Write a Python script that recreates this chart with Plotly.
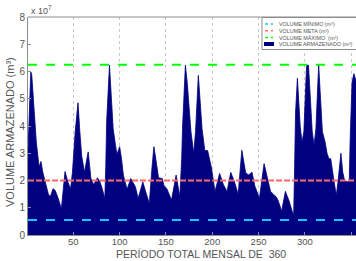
import plotly.graph_objects as go

# Data in units of 10^7 m^3
MONTHS = [1, 2, 4, 5, 6, 8, 10, 12, 13, 15, 17, 20, 23, 25, 28, 30, 32, 35, 37, 41,
          44, 47, 49, 52, 55, 57, 59, 62, 64, 66, 69, 72, 76, 78, 80, 84, 85, 86, 89, 91,
          93, 97, 100, 102, 104, 108, 112, 114, 117, 120, 125, 128, 132, 135, 137, 139, 142, 146, 148, 151,
          156, 161, 163, 165, 167, 168, 171, 173, 175, 177, 180, 182, 185, 187, 189, 192, 195, 199, 203, 208,
          212, 216, 220, 224, 228, 232, 236, 239, 243, 246, 251, 256, 260, 263, 266, 269, 271, 275, 279, 283,
          287, 288, 289, 290, 292, 293, 295, 297, 299, 301, 302, 304, 306, 308, 310, 312, 314, 315, 317, 319,
          322, 324, 326, 328, 331, 334, 336, 339, 341, 343, 346, 348, 349, 351, 353, 355, 358, 360]
VOLUME_ARMAZENADO = [3.1, 4.2, 5.98, 5.9, 5.5, 4.4, 3.4, 2.6, 2.5, 2.7, 2.3, 1.9, 1.5, 1.4, 1.7, 1.65, 1.5, 1.2, 0.95, 2.33,
                     1.95, 1.7, 2.3, 3.8, 4.85, 3.8, 2.9, 2.3, 2.7, 3.05, 2.07, 1.85, 2.1, 2.0, 1.83, 1.35, 2.5, 4.2, 6.23, 5.0,
                     3.9, 2.95, 3.24, 2.8, 2.2, 1.68, 2.07, 1.95, 1.77, 1.34, 1.95, 1.6, 1.16, 2.5, 3.24, 2.8, 2.1, 2.07, 1.8, 1.7,
                     1.28, 2.2, 1.8, 1.4, 2.8, 4.0, 6.23, 5.6, 4.7, 3.8, 3.0, 3.8, 5.86, 4.8, 3.9, 3.1, 3.1, 2.5, 1.6, 2.26,
                     1.85, 1.6, 2.3, 1.95, 1.5, 3.11, 2.3, 2.2, 2.3, 1.8, 1.35, 2.62, 2.05, 1.6, 1.5, 1.4, 1.28, 0.88, 1.6, 1.25,
                     0.8, 0.78, 2.5, 4.5, 5.75, 5.0, 4.0, 3.4, 3.8, 5.5, 6.23, 6.23, 5.0, 3.8, 3.3, 3.9, 5.5, 6.23, 5.0, 3.8,
                     3.4, 3.0, 2.8, 2.8, 2.1, 1.45, 2.0, 3.0, 2.3, 2.0, 1.95, 2.0, 3.5, 5.6, 5.92, 5.7, 4.8, 4.2]
PERIOD = [1, 360]
VOLUME_MINIMO = 0.55
VOLUME_META = 2.0
VOLUME_MAXIMO = 6.25
X_TICKS = [50, 100, 150, 200, 250, 300, 350]
Y_TICKS = [0, 1, 2, 3, 4, 5, 6, 7, 8]

NAVY = "#000080"
CYAN = "#10c8f8"
RED = "#ff6a6a"
GREEN = "#00ff00"
FONT = "Liberation Sans, Arial, sans-serif"

fig = go.Figure()
fig.add_trace(go.Scatter(x=MONTHS, y=VOLUME_ARMAZENADO, mode="lines", fill="tozeroy",
                         line=dict(color=NAVY, width=0.8), fillcolor=NAVY, showlegend=False))
fig.add_trace(go.Scatter(x=PERIOD, y=[VOLUME_MINIMO] * 2, mode="lines",
                         line=dict(color=CYAN, width=2, dash="dash"), showlegend=False))
fig.add_trace(go.Scatter(x=PERIOD, y=[VOLUME_META] * 2, mode="lines",
                         line=dict(color=RED, width=1.8, dash="6px,2px"), showlegend=False))
fig.add_trace(go.Scatter(x=PERIOD, y=[VOLUME_MAXIMO] * 2, mode="lines",
                         line=dict(color=GREEN, width=2, dash="dash"), showlegend=False))

L, T, W, H = 28, 17, 328, 218
def px(x):
    return (x - L) / W
def py(y):
    return (T + H - y) / H

shapes = [
    dict(type="line", xref="paper", yref="paper", x0=0, x1=1.02, y0=1, y1=1,
         line=dict(color="#8c8c8c", width=1)),
    dict(type="rect", xref="paper", yref="paper", x0=px(262), x1=px(362), y0=py(49.5), y1=py(17.5),
         fillcolor="white", line=dict(color="#8c8c8c", width=1)),
]
legend_items = [("VOLUME MÍNIMO (m³)", CYAN, 24), ("VOLUME META (m³)", RED, 30.7),
                ("VOLUME MÁXIMO  (m³)", GREEN, 37.5), ("VOLUME ARMAZENADO (m³)", NAVY, 44)]
annotations = []
for i, (name, col, yy) in enumerate(legend_items):
    if i < 3:
        shapes.append(dict(type="line", xref="paper", yref="paper", x0=px(265), x1=px(273),
                           y0=py(yy), y1=py(yy), line=dict(color=col, width=1.5, dash="dot")))
    else:
        shapes.append(dict(type="rect", xref="paper", yref="paper", x0=px(264), x1=px(274),
                           y0=py(yy + 2), y1=py(yy - 2), fillcolor=NAVY, line=dict(width=0)))
    annotations.append(dict(text=name, xref="paper", yref="paper", x=px(277), y=py(yy),
                            xanchor="left", yanchor="middle", showarrow=False,
                            font=dict(size=5.4, color="#555", family=FONT)))

annotations.append(dict(text="x 10<sup>7</sup>", xref="paper", yref="paper", x=px(29), y=py(10),
                        xanchor="left", yanchor="middle", showarrow=False,
                        font=dict(size=9, color="#555", family=FONT)))
annotations.append(dict(text="VOLUME ARMAZENADO (m³)", xref="paper", yref="paper", x=px(10), y=py(132),
                        xanchor="center", yanchor="middle", showarrow=False, textangle=-90,
                        font=dict(size=11, color="#555", family=FONT)))
annotations.append(dict(text="PERÍODO TOTAL MENSAL DE  360", xref="paper", yref="paper", x=px(201), y=py(254),
                        xanchor="center", yanchor="middle", showarrow=False,
                        font=dict(size=10.5, color="#555", family=FONT)))

fig.update_layout(
    width=356, height=261,
    margin=dict(l=L, r=0, t=T, b=261 - T - H),
    paper_bgcolor="white", plot_bgcolor="white",
    showlegend=False,
    shapes=shapes, annotations=annotations,
    font=dict(family=FONT, color="#555", size=10),
)
fig.update_xaxes(range=[1, 355.3], tickvals=X_TICKS, ticktext=[str(v) for v in X_TICKS],
                 showgrid=True, gridcolor="#c8c8c8", griddash="dot", gridwidth=1,
                 showline=True, linecolor="#8c8c8c", ticks="inside", ticklen=3, tickcolor="#8c8c8c",
                 zeroline=False, tickfont=dict(size=9.5, color="#555"), ticklabelstandoff=-2)
fig.update_yaxes(range=[0, 8], tickvals=Y_TICKS, ticktext=[str(v) for v in Y_TICKS],
                 showgrid=False, showline=True, linecolor="#8c8c8c", ticks="inside", ticklen=3,
                 tickcolor="#8c8c8c", zeroline=False, tickfont=dict(size=10, color="#555"))

fig.write_html("out.html", config={"displayModeBar": False},
               post_script="document.body.style.margin='0';document.body.style.overflow='hidden';")
